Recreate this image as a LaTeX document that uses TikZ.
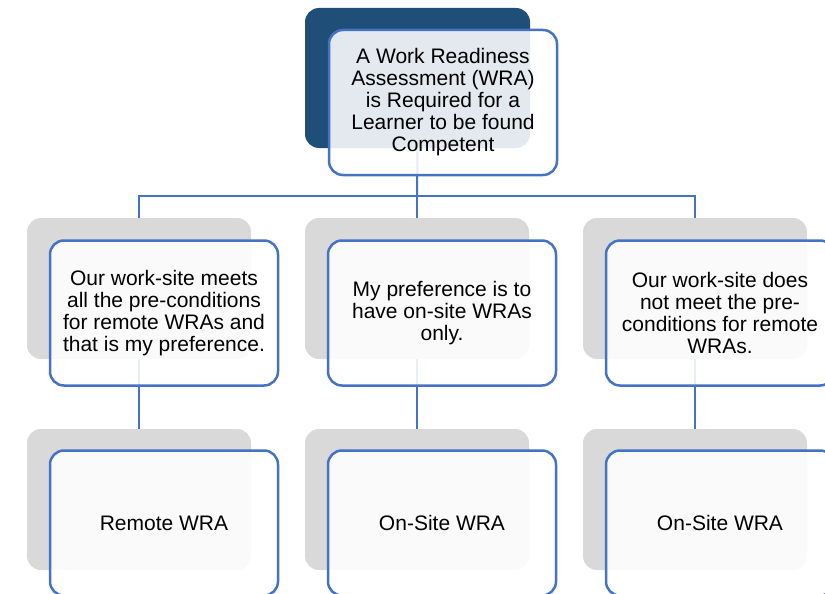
\documentclass[tikz,border=0pt]{standalone}
\usepackage{fontspec}
\setmainfont{Liberation Sans}
\definecolor{shadeblue}{RGB}{31,78,121}
\definecolor{shadegray}{RGB}{217,217,217}
\definecolor{lineblue}{RGB}{68,114,196}
\tikzset{
  shade/.style={rounded corners=14pt,minimum width=224pt,minimum height=141pt,fill=shadegray,inner sep=0pt},
  card/.style={rounded corners=14pt,minimum width=228pt,minimum height=145pt,draw=lineblue,line width=2.5pt,
    fill=white,fill opacity=0.88,text opacity=1,align=center,inner sep=0pt,font=\fontsize{21}{22}\selectfont},
  link/.style={draw=lineblue,line width=2pt}
}

\begin{document}
\begin{tikzpicture}[x=1pt,y=-1pt]
\useasboundingbox (0,0) rectangle (825,594);
\clip (0,0) rectangle (825,594);
% back shapes
\node[shade,fill=shadeblue,minimum width=225pt,minimum height=140pt] (reqshade) at (417.5,78) {};
\node[shade] (meetsshade) at (139,288.5) {};
\node[shade] (prefshade) at (417,288.5) {};
\node[shade] (notmeetshade) at (695,288.5) {};
\node[shade] (remoteshade) at (139,499.5) {};
\node[shade] (onsiteAshade) at (417,499.5) {};
\node[shade] (onsiteBshade) at (695,499.5) {};
% connectors
\coordinate (bar) at (417,196);
\draw[link] (reqshade.south) -- (bar);
\draw[link] (bar) -| (meetsshade.north);
\draw[link] (bar) -- (prefshade.north);
\draw[link] (bar) -| (notmeetshade.north);
\draw[link] (meetsshade.south) -- (remoteshade.north);
\draw[link] (prefshade.south) -- (onsiteAshade.north);
\draw[link] (notmeetshade.south) -- (onsiteBshade.north);
% front cards
\node[card] (req) at (443,102.5) {A Work Readiness\\Assessment (WRA)\\is Required for a\\Learner to be found\\Competent};
\node[card] (meets) at (164,313) {Our work-site meets\\all the pre-conditions\\for remote WRAs and\\that is my preference.};
\node[card] (pref) at (442,313) {My preference is to\\have on-site WRAs\\only.};
\node[card] (notmeet) at (720,313) {Our work-site does\\not meet the pre-\\conditions for remote\\WRAs.};
\node[card] (remote) at (164,523) {Remote WRA};
\node[card] (onsiteA) at (442,523) {On-Site WRA};
\node[card] (onsiteB) at (720,523) {On-Site WRA};
\end{tikzpicture}
\end{document}
